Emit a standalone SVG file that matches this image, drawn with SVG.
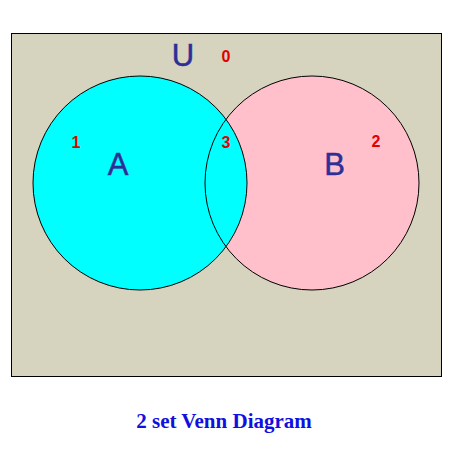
<svg xmlns="http://www.w3.org/2000/svg" width="453" height="453" viewBox="0 0 453 453">
<style>
.set{font-family:"Liberation Sans",Arial,sans-serif;font-size:31px;fill:#2E2E96;stroke:#2E2E96;stroke-width:0.5;text-anchor:middle}
.num{font-family:"Liberation Sans",Arial,sans-serif;font-size:16px;font-weight:bold;fill:#E00000;text-anchor:middle}
.outline{fill:none;stroke:#000;stroke-width:1}
.title{font-family:"Liberation Serif","Times New Roman",serif;font-size:21px;font-weight:bold;fill:#1010E0;text-anchor:middle}
</style>
<rect width="453" height="453" fill="#fff"/>
<g id="universe">
<rect x="11.5" y="33.5" width="430" height="343" fill="#D6D3BE" stroke="#000"/>
<text class="set" x="183" y="66">U</text>
<text class="num" x="226" y="62">0</text>
</g>
<g id="setB">
<circle cx="312" cy="183" r="107" fill="#FFC0CB"/>
</g>
<g id="setA">
<circle cx="140" cy="183" r="107" fill="#00FFFF"/>
</g>
<g id="outlines">
<circle class="outline" cx="312" cy="183" r="107"/>
<circle class="outline" cx="140" cy="183" r="107"/>
</g>
<g id="labels">
<text class="set" x="118" y="175">A</text>
<text class="num" x="76" y="148">1</text>
<text class="set" x="334.5" y="175">B</text>
<text class="num" x="376" y="147">2</text>
<text class="num" x="226" y="148">3</text>
</g>
<text class="title" x="224" y="428">2 set Venn Diagram</text>
</svg>
